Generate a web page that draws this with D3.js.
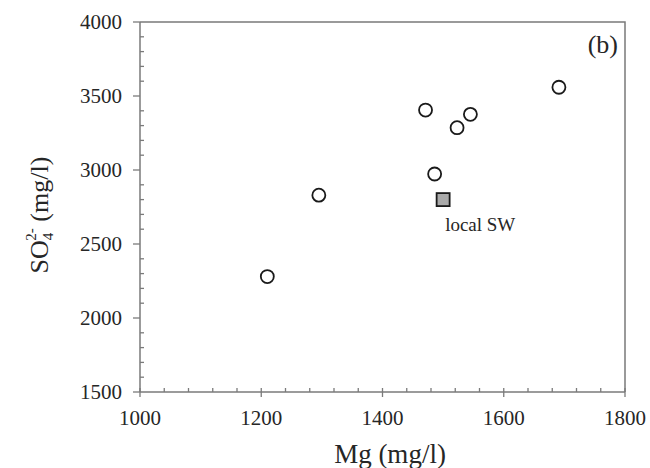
<!DOCTYPE html>
<html><head><meta charset="utf-8">
<script src="https://cdn.jsdelivr.net/npm/d3@7"></script>
<style>body{margin:0;background:#fff}svg{display:block}</style>
</head><body>
<svg id="c" width="650" height="468" font-family="'Liberation Serif', 'Times New Roman', Times, serif"></svg>
<script>
const mgValues = [1210, 1295, 1471, 1523, 1545, 1691, 1486];
const so4Values = [2280, 2830, 3405, 3286, 3376, 3559, 2973];
const localSW = {mg: 1500, so4: 2800, label: "local SW"};
const xTicks = [1000, 1200, 1400, 1600, 1800];
const yTicks = [1500, 2000, 2500, 3000, 3500, 4000];

const svg = d3.select("#c");
const x = d3.scaleLinear().domain([1000, 1800]).range([140, 625]);
const y = d3.scaleLinear().domain([1500, 4000]).range([392, 22]);
const axisColor = "#7a7a7a";
const textColor = "#262626";

svg.append("path").attr("d", `M${x(1000)},${y(4000)}H${x(1800)}V${y(1500)}`)
  .attr("fill", "none").attr("stroke", axisColor).attr("stroke-width", 1.5);

const gx = svg.append("g").attr("transform", `translate(0,${y(1500)})`);
gx.append("line").attr("x1", x(1000)).attr("x2", x(1800)).attr("stroke", axisColor).attr("stroke-width", 1.5);
const xMinor = d3.range(1000, 1801, 40).filter(v => !xTicks.includes(v));
gx.selectAll(".mn").data(xMinor).join("line").attr("class", "mn").attr("x1", d => x(d)).attr("x2", d => x(d))
  .attr("y1", 0).attr("y2", -4).attr("stroke", axisColor).attr("stroke-width", 1.3);
gx.selectAll(".mj").data(xTicks).join("line").attr("class", "mj").attr("x1", d => x(d)).attr("x2", d => x(d))
  .attr("y1", -4).attr("y2", 5).attr("stroke", axisColor).attr("stroke-width", 1.3);
gx.selectAll("text").data(xTicks).join("text").attr("x", d => x(d)).attr("y", 33)
  .attr("text-anchor", "middle").attr("font-size", 21).attr("fill", textColor).text(d => d);

const gy = svg.append("g").attr("transform", `translate(${x(1000)},0)`);
gy.append("line").attr("y1", y(1500)).attr("y2", y(4000)).attr("stroke", axisColor).attr("stroke-width", 1.5);
const yMinor = d3.range(1500, 4001, 100).filter(v => !yTicks.includes(v));
gy.selectAll(".mn").data(yMinor).join("line").attr("class", "mn").attr("y1", d => y(d)).attr("y2", d => y(d))
  .attr("x1", 0).attr("x2", 4).attr("stroke", axisColor).attr("stroke-width", 1.3);
gy.selectAll(".mj").data(yTicks).join("line").attr("class", "mj").attr("y1", d => y(d)).attr("y2", d => y(d))
  .attr("x1", -7).attr("x2", 0).attr("stroke", axisColor).attr("stroke-width", 1.3);
gy.selectAll("text").data(yTicks).join("text").attr("x", -18).attr("y", d => y(d) + 7)
  .attr("text-anchor", "end").attr("font-size", 21).attr("fill", textColor).text(d => d);

svg.append("text").attr("x", 390).attr("y", 463).attr("text-anchor", "middle")
  .attr("font-size", 27).attr("fill", textColor).text("Mg (mg/l)");
const yt = svg.append("text").attr("transform", "translate(48,215) rotate(-90)")
  .attr("text-anchor", "middle").attr("font-size", 26).attr("fill", textColor);
yt.append("tspan").text("SO");
yt.append("tspan").attr("font-size", 15).attr("dy", 5).text("4");
yt.append("tspan").attr("font-size", 15).attr("dx", -8).attr("dy", -17).text("2-");
yt.append("tspan").attr("dy", 12).text(" (mg/l)");

svg.append("text").attr("x", 618).attr("y", 53).attr("text-anchor", "end")
  .attr("font-size", 26).attr("fill", textColor).text("(b)");

svg.selectAll("circle").data(mgValues.map((m, i) => [m, so4Values[i]])).join("circle")
  .attr("cx", d => x(d[0])).attr("cy", d => y(d[1])).attr("r", 6.5)
  .attr("fill", "#fff").attr("stroke", "#1a1a1a").attr("stroke-width", 1.8);

const s = 13;
svg.append("rect").attr("x", x(localSW.mg) - s / 2).attr("y", y(localSW.so4) - s / 2)
  .attr("width", s).attr("height", s).attr("fill", "#aaaaaa").attr("stroke", "#1a1a1a").attr("stroke-width", 1.8);
svg.append("text").attr("x", x(localSW.mg) + 2).attr("y", y(localSW.so4) + 31)
  .attr("font-size", 19).attr("fill", textColor).text(localSW.label);
</script>
</body></html>
